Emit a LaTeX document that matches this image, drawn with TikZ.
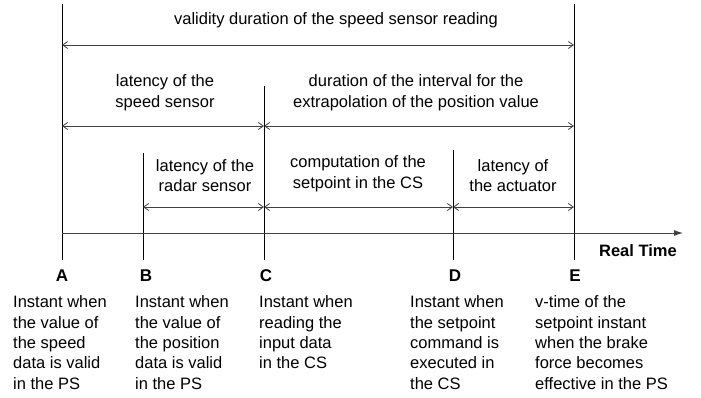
\documentclass[tikz,border=0pt]{standalone}
\usepackage{fontspec}
\setmainfont{Liberation Sans}
\usetikzlibrary{arrows.meta}
\begin{document}
\begin{tikzpicture}[x=1pt,y=-1pt,
  every node/.style={font=\fontsize{16.5}{20.4}\selectfont, inner sep=0pt},
  vline/.style={draw=black, line width=0.8pt},
  dim/.style={draw=black!75, line width=0.8pt, {Straight Barb[length=5pt,width=7pt]}-{Straight Barb[length=5pt,width=7pt]}},
  axis/.style={draw=black!75, line width=0.9pt, -{Latex[length=9pt,width=6pt]}},
  lbl/.style={align=center, anchor=south},
  desc/.style={align=left, anchor=north west},
  letter/.style={font=\fontsize{17}{18}\selectfont\bfseries}]
\useasboundingbox (0,0) rectangle (701,398);
% vertical lines
\coordinate (At) at (62,4);   \coordinate (Ab) at (62,260);
\coordinate (Bt) at (143,153); \coordinate (Bb) at (143,260);
\coordinate (Ct) at (264,86);  \coordinate (Cb) at (264,260);
\coordinate (Dt) at (453,150); \coordinate (Db) at (453,260);
\coordinate (Et) at (574,4);   \coordinate (Eb) at (574,260);
\draw[vline] (At) -- (Ab);
\draw[vline] (Bt) -- (Bb);
\draw[vline] (Ct) -- (Cb);
\draw[vline] (Dt) -- (Db);
\draw[vline] (Et) -- (Eb);
% axis
\coordinate (ax0) at (62,233);
\coordinate (ax1) at (683,233);
\draw[axis] (ax0) -- (ax1);
\node[font=\fontsize{16.5}{18}\selectfont\bfseries, anchor=east] (rt) at (677,251) {Real Time};
% dimension arrows
\coordinate (A1) at (62,45);  \coordinate (E1) at (574,45);
\coordinate (A2) at (62,126); \coordinate (C2) at (264,126); \coordinate (E2) at (574,126);
\coordinate (B3) at (143,207); \coordinate (C3) at (264,207); \coordinate (D3) at (453,207); \coordinate (E3) at (574,207);
\draw[dim] (A1) -- (E1);
\draw[dim] (A2) -- (C2);
\draw[dim] (C2) -- (E2);
\draw[dim] (B3) -- (C3);
\draw[dim] (C3) -- (D3);
\draw[dim] (D3) -- (E3);
% labels
\node[lbl] (l1) at (336,28) {validity duration of the speed sensor reading};
\node[lbl] (l2) at (165,111) {latency of the\\speed sensor};
\node[lbl] (l3) at (416,111) {duration of the interval for the\\extrapolation of the position value};
\node[lbl] (l4) at (205,192) {latency of the\\radar sensor};
\node[lbl] (l5) at (358,192) {computation of the\\setpoint in the CS};
\node[lbl] (l6) at (513,192) {latency of\\the actuator};
% letters
\node[letter] (lA) at (62,276) {A};
\node[letter] (lB) at (146,276) {B};
\node[letter] (lC) at (266,276) {C};
\node[letter] (lD) at (455,276) {D};
\node[letter] (lE) at (575,276) {E};
% descriptions
\node[desc] (dA) at (13,295.5) {Instant when\\the value of\\the speed\\data is valid\\in the PS};
\node[desc] (dB) at (135,295.5) {Instant when\\the value of\\the position\\data is valid\\in the PS};
\node[desc] (dC) at (259,295.5) {Instant when\\reading the\\input data\\in the CS};
\node[desc] (dD) at (410,295.5) {Instant when\\the setpoint\\command is\\executed in\\the CS};
\node[desc] (dE) at (535,295.5) {v-time of the\\setpoint instant\\when the brake\\force becomes\\effective in the PS};
\end{tikzpicture}
\end{document}
